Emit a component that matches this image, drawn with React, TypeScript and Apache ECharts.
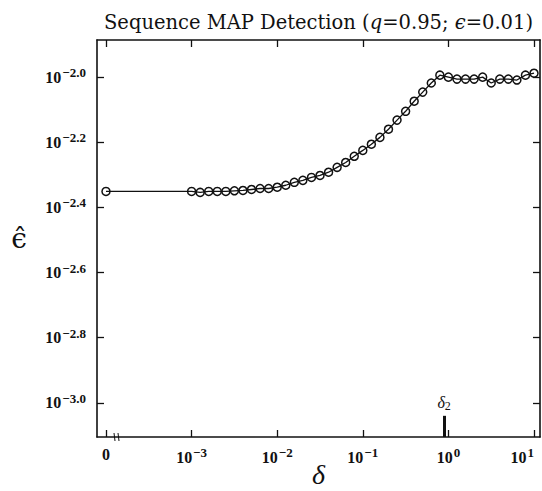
import React, { useEffect, useRef } from "react";
import * as echarts from "echarts";

// x positions are log10(δ); δ = 0 is placed one decade left of 10^-3 (broken axis)
const logDeltaZero = -4;
const epsHatAtZero = -2.351;
const logDelta = [
  -3.0, -2.9, -2.8, -2.7, -2.6, -2.5, -2.4, -2.3, -2.2, -2.1,
  -2.0, -1.9, -1.8, -1.7, -1.6, -1.5, -1.4, -1.3, -1.2, -1.1,
  -1.0, -0.9, -0.8, -0.7, -0.6, -0.5, -0.4, -0.3, -0.2, -0.1,
  0.0, 0.1, 0.2, 0.3, 0.4, 0.5, 0.6, 0.7, 0.8, 0.9, 1.0,
];
// log10 of estimated epsilon
const epsHatLog = [
  -2.351, -2.354, -2.351, -2.351, -2.351, -2.349, -2.348, -2.345, -2.342, -2.342,
  -2.338, -2.332, -2.323, -2.317, -2.308, -2.302, -2.292, -2.277, -2.262, -2.243,
  -2.225, -2.206, -2.185, -2.160, -2.132, -2.105, -2.074, -2.046, -2.018, -1.994,
  -2.0, -2.006, -2.006, -2.006, -2.0, -2.018, -2.006, -2.006, -2.009, -1.994, -1.988,
];
const xTickPos = [-4, -3, -2, -1, 0, 1];
const xTickLabels = ["0", "−3", "−2", "−1", "0", "1"];
const yTickPos = [-3.0, -2.8, -2.6, -2.4, -2.2, -2.0];
const yTickLabels = ["−3.0", "−2.8", "−2.6", "−2.4", "−2.2", "−2.0"];
const delta2Log = -0.05;

const X_MIN = -4.105;
const X_MAX = 1.07;
const Y_MIN = -3.105;
const Y_MAX = -1.886;

const SERIF = "'DejaVu Serif', 'Liberation Serif', serif";
const TSERIF = "'Liberation Serif', serif";
const INK = "#111";

export default function App() {
  const ref = useRef<HTMLDivElement>(null);
  useEffect(() => {
    if (!ref.current) return;
    const chart = echarts.init(ref.current, undefined, { renderer: "svg" });
    const labelRich = {
      b: { fontFamily: TSERIF, fontSize: 16, color: INK, fontWeight: "bold" },
      s: { fontFamily: TSERIF, fontSize: 13, color: INK, fontWeight: "bold", padding: [0, 0, 9, 1] },
    };
    const xFmt = (v: number) => {
      const i = xTickPos.indexOf(v);
      if (i === 0) return "{b|0}";
      return `{b|10}{s|${xTickLabels[i]}}`;
    };
    const yFmt = (v: number) => {
      const i = yTickPos.findIndex((p) => Math.abs(p - v) < 1e-6);
      return `{b|10}{s|${yTickLabels[i]}}`;
    };
    const axisLine = { show: true, onZero: false, lineStyle: { color: INK, width: 1.6 } };
    const tick = (vals: number[]) => ({
      show: true,
      inside: true,
      length: 7,
      customValues: vals,
      lineStyle: { color: INK, width: 1.3 },
    });
    const data = [[logDeltaZero, epsHatAtZero], ...logDelta.map((x, i) => [x, epsHatLog[i]])];
    chart.setOption({
      animation: false,
      backgroundColor: "#fff",
      title: {
        text: "Sequence MAP Detection ({i|q}=0.95; {i|ϵ}=0.01)",
        left: 99,
        top: 7,
        textStyle: {
          fontFamily: SERIF,
          fontSize: 19.5,
          fontWeight: "normal",
          color: INK,
          rich: {
            i: { fontFamily: SERIF, fontSize: 19.5, fontStyle: "italic", color: INK },
          },
        },
      },
      grid: { left: 97, right: 2, top: 40, bottom: 54, containLabel: false, outerBoundsMode: "none" },
      xAxis: [
        {
          type: "value",
          position: "bottom",
          min: X_MIN,
          max: X_MAX,
          axisLine,
          axisTick: tick(xTickPos),
          axisLabel: { customValues: xTickPos, formatter: xFmt, margin: 9, rich: labelRich, alignMaxLabel: "right" },
          splitLine: { show: false },
          name: "δ",
          nameLocation: "middle",
          nameGap: 23,
          nameMoveOverlap: false,
          nameTextStyle: { fontFamily: TSERIF, fontSize: 28, fontStyle: "italic", color: INK },
        },
        {
          type: "value",
          position: "top",
          min: X_MIN,
          max: X_MAX,
          axisLine,
          axisTick: tick(xTickPos),
          axisLabel: { show: false },
          splitLine: { show: false },
        },
      ],
      yAxis: [
        {
          type: "value",
          position: "left",
          min: Y_MIN,
          max: Y_MAX,
          axisLine,
          axisTick: tick(yTickPos),
          axisLabel: { customValues: yTickPos, formatter: yFmt, margin: 11, rich: labelRich },
          splitLine: { show: false },
          name: "ϵ̂",
          nameLocation: "middle",
          nameGap: 70,
          nameRotate: 0,
          nameMoveOverlap: false,
          nameTextStyle: { fontFamily: SERIF, fontSize: 28, color: INK },
        },
        {
          type: "value",
          position: "right",
          min: Y_MIN,
          max: Y_MAX,
          axisLine,
          axisTick: tick(yTickPos),
          axisLabel: { show: false },
          splitLine: { show: false },
        },
      ],
      graphic: [
        {
          type: "group",
          children: [
            { type: "line", shape: { x1: 114, y1: 433, x2: 115, y2: 441 }, style: { stroke: INK, lineWidth: 1 } },
            { type: "line", shape: { x1: 118, y1: 433, x2: 119, y2: 441 }, style: { stroke: INK, lineWidth: 1 } },
          ],
        },
      ],
      series: [
        {
          type: "line",
          data,
          symbol: "circle",
          symbolSize: 8,
          lineStyle: { color: INK, width: 1.3 },
          itemStyle: { color: "rgba(255,255,255,0)", borderColor: INK, borderWidth: 1.5 },
          markLine: {
            silent: true,
            symbol: "none",
            lineStyle: { color: INK, width: 3, type: "solid" },
            label: {
              show: true,
              position: "end",
              color: INK,
              distance: 4,
              formatter: "{i|δ}{s|2}",
              rich: {
                i: { fontFamily: TSERIF, fontSize: 16, fontStyle: "italic", color: INK },
                s: { fontFamily: TSERIF, fontSize: 12, color: INK, padding: [6, 0, 0, 0] },
              },
            },
            data: [[{ coord: [delta2Log, Y_MIN] }, { coord: [delta2Log, -3.04] }]],
          },
        },
      ],
    });
    return () => chart.dispose();
  }, []);
  return <div ref={ref} style={{ width: 542, height: 491, position: "absolute", left: 0, top: 0 }} />;
}
